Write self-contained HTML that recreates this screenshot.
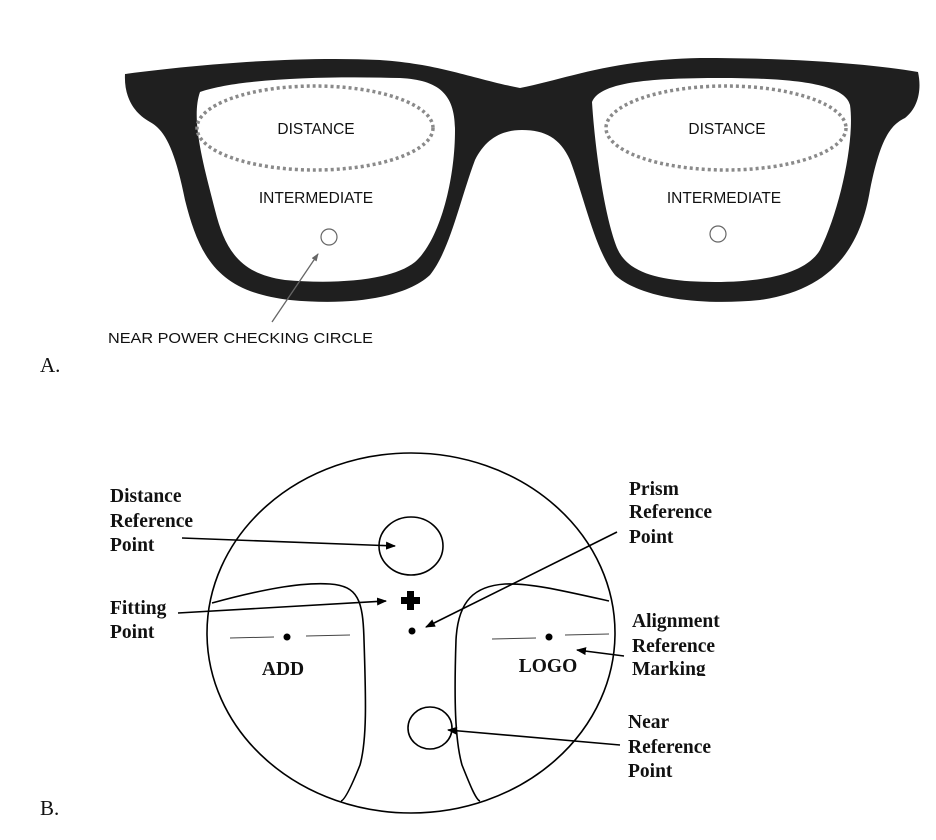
<!DOCTYPE html>
<html><head><meta charset="utf-8"><style>html,body{margin:0;padding:0;background:#fff}svg{display:block}</style></head>
<body>
<svg width="936" height="840" viewBox="0 0 936 840" xmlns="http://www.w3.org/2000/svg">
<defs>
<marker id="ah" markerWidth="10" markerHeight="8" refX="9" refY="4" orient="auto" markerUnits="userSpaceOnUse"><path d="M0,0 L10,4 L0,8 z" fill="#000"/></marker>
<marker id="ag" markerWidth="8" markerHeight="6" refX="7" refY="3" orient="auto" markerUnits="userSpaceOnUse"><path d="M0,0 L8,3 L0,6 z" fill="#666"/></marker>
<clipPath id="cm"><rect x="600" y="655" width="200" height="21"/></clipPath>
</defs>
<!-- Glasses frame -->
<path fill="#1f1f1f" fill-rule="evenodd" d="
M125,74 C200,64 300,56 380,60 C440,64 470,78 520,88 C570,78 610,60 700,58 C800,58 870,64 918,72
C922,90 918,108 905,118 C890,125 880,140 870,190 C860,250 830,290 760,300 C700,306 640,298 615,275
C595,250 585,200 570,160 C560,138 545,130 522,130 C500,130 485,140 475,160 C460,200 450,250 430,275
C405,298 350,306 290,300 C220,292 200,260 185,200 C175,150 165,130 150,122 C132,112 124,95 125,74 Z
M200,92 C240,78 330,76 400,78 C440,80 455,95 455,130 C455,180 440,240 415,262 C390,282 330,284 285,280 C240,274 225,250 215,210 C205,170 190,120 200,92 Z
M592,102 C600,82 650,78 720,78 C800,78 845,85 850,105 C855,140 840,210 820,250 C805,275 760,282 715,282 C665,282 630,275 618,250 C605,220 595,150 592,102 Z"/>
<ellipse cx="315" cy="128" rx="118" ry="42" fill="none" stroke="#8a8a8a" stroke-width="3.5" stroke-dasharray="3 3"/>
<ellipse cx="726" cy="128" rx="120" ry="42" fill="none" stroke="#8a8a8a" stroke-width="3.5" stroke-dasharray="3 3"/>
<g font-family="Liberation Sans, sans-serif" font-size="15.5" fill="#111" text-anchor="middle">
<text x="316" y="134">DISTANCE</text>
<text x="316" y="203">INTERMEDIATE</text>
<text x="727" y="134">DISTANCE</text>
<text x="724" y="203">INTERMEDIATE</text>
</g>
<circle cx="329" cy="237" r="8" fill="none" stroke="#666" stroke-width="1.2"/>
<circle cx="718" cy="234" r="8" fill="none" stroke="#666" stroke-width="1.2"/>
<line x1="272" y1="322" x2="318" y2="254" stroke="#666" stroke-width="1.3" marker-end="url(#ag)"/>
<text x="108" y="343" font-family="Liberation Sans, sans-serif" font-size="15" fill="#111" textLength="265" lengthAdjust="spacingAndGlyphs">NEAR POWER CHECKING CIRCLE</text>
<text x="40" y="372" font-family="Liberation Serif, serif" font-size="21" fill="#111">A.</text>
<text x="40" y="815" font-family="Liberation Serif, serif" font-size="21" fill="#111">B.</text>

<!-- Part B -->
<g fill="none" stroke="#000" stroke-width="1.6">
<ellipse cx="411" cy="633" rx="204" ry="180"/>
<ellipse cx="411" cy="546" rx="32" ry="29"/>
<ellipse cx="430" cy="728" rx="22" ry="21"/>
<path d="M212,603 C260,590 300,582 330,584 C358,586 363,600 364,640 C366,700 367,740 360,765 C352,785 345,800 341,801"/>
<path d="M609,601 C560,590 530,583 505,584 C475,586 458,600 456,640 C454,700 455,740 462,765 C470,785 476,800 480,801"/>
</g>
<g stroke="#444" stroke-width="1">
<line x1="230" y1="638" x2="274" y2="637"/><line x1="306" y1="636" x2="350" y2="635"/>
<line x1="492" y1="639" x2="536" y2="638"/><line x1="565" y1="635" x2="609" y2="634"/>
</g>
<circle cx="287" cy="637" r="3.5" fill="#000"/>
<circle cx="549" cy="637" r="3.5" fill="#000"/>
<circle cx="412" cy="631" r="3.5" fill="#000"/>
<path d="M407,591 h7 v6 h6 v7 h-6 v6 h-7 v-6 h-6 v-7 h6 z" fill="#000"/>
<g stroke="#000" stroke-width="1.6" fill="none">
<line x1="182" y1="538" x2="395" y2="546" marker-end="url(#ah)"/>
<line x1="178" y1="613" x2="386" y2="601" marker-end="url(#ah)"/>
<line x1="617" y1="532" x2="426" y2="627" marker-end="url(#ah)"/>
<line x1="624" y1="656" x2="577" y2="650" marker-end="url(#ah)"/>
<line x1="620" y1="745" x2="448" y2="730" marker-end="url(#ah)"/>
</g>
<g font-family="Liberation Serif, serif" font-weight="bold" font-size="19.5" fill="#111">
<text x="110" y="502">Distance</text><text x="110" y="527">Reference</text><text x="110" y="551">Point</text>
<text x="110" y="614">Fitting</text><text x="110" y="638">Point</text>
<text x="629" y="495">Prism</text><text x="629" y="518">Reference</text><text x="629" y="543">Point</text>
<text x="632" y="627">Alignment</text><text x="632" y="652">Reference</text>
<text x="632" y="675" clip-path="url(#cm)">Marking</text>
<text x="628" y="728">Near</text><text x="628" y="753">Reference</text><text x="628" y="777">Point</text>
<text x="283" y="675" text-anchor="middle">ADD</text>
<text x="548" y="672" text-anchor="middle">LOGO</text>
</g>
</svg>
</body></html>
